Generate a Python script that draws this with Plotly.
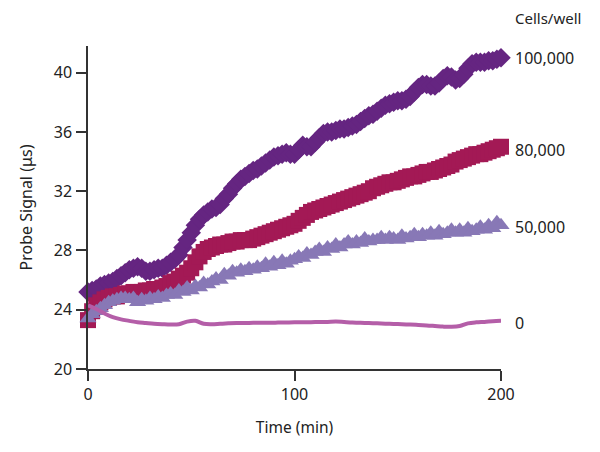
import plotly.graph_objects as go

# time points (min)
time_min = list(range(0, 202, 2))
line_time = list(range(0, 204, 4))

# probe signal (us) per cell density
cells_100k = [25.2, 25.3, 25.4, 25.6, 25.7, 25.8, 25.9, 26.1, 26.3, 26.5,
              26.7, 26.8, 26.9, 26.8, 26.6, 26.6, 26.7, 26.8, 26.8, 27.0,
              27.2, 27.4, 27.7, 28.2, 28.7, 29.2, 29.7, 30.1, 30.4, 30.6,
              30.8, 30.9, 31.1, 31.5, 31.8, 32.2, 32.5, 32.8, 33.0, 33.2,
              33.4, 33.5, 33.7, 33.9, 34.1, 34.3, 34.4, 34.5, 34.6, 34.5,
              34.5, 34.8, 35.1, 35.0, 35.0, 35.3, 35.6, 35.9, 36.0, 36.0,
              36.1, 36.2, 36.2, 36.3, 36.4, 36.5, 36.7, 36.9, 37.1, 37.2,
              37.4, 37.6, 37.8, 37.9, 38.0, 38.1, 38.1, 38.2, 38.4, 38.7,
              39.0, 39.2, 39.2, 39.1, 39.1, 39.3, 39.6, 39.8, 39.7, 39.5,
              39.6, 39.9, 40.3, 40.6, 40.7, 40.7, 40.7, 40.8, 40.8, 40.9,
              41.0]
cells_80k = [23.3, 23.9, 24.3, 24.5, 24.7, 24.8, 24.9, 24.9, 25.0, 25.1,
             25.1, 25.2, 25.2, 25.2, 25.3, 25.3, 25.4, 25.4, 25.5, 25.6,
             25.8, 25.9, 26.1, 26.3, 26.5, 26.8, 27.2, 27.6, 27.9, 28.1,
             28.2, 28.3, 28.4, 28.4, 28.5, 28.6, 28.6, 28.7, 28.7, 28.7,
             28.8, 28.9, 29.0, 29.1, 29.2, 29.3, 29.4, 29.5, 29.6, 29.7,
             29.8, 30.0, 30.2, 30.4, 30.6, 30.7, 30.8, 30.9, 31.0, 31.1,
             31.2, 31.3, 31.4, 31.5, 31.6, 31.7, 31.8, 31.9, 32.0, 32.2,
             32.3, 32.4, 32.5, 32.6, 32.6, 32.7, 32.8, 32.9, 33.0, 33.0,
             33.1, 33.2, 33.3, 33.3, 33.4, 33.5, 33.6, 33.7, 33.8, 34.0,
             34.1, 34.2, 34.3, 34.4, 34.5, 34.5, 34.6, 34.7, 34.8, 34.9,
             35.0]
cells_50k = [23.4, 23.7, 23.9, 24.1, 24.3, 24.5, 24.6, 24.7, 24.8, 24.8,
             24.7, 24.8, 24.5, 24.7, 24.6, 24.8, 24.7, 24.9, 24.8, 25.0,
             25.1, 25.0, 25.3, 25.2, 25.5, 25.3, 25.6, 25.5, 25.8, 25.7,
             25.9, 26.1, 26.0, 26.4, 26.3, 26.6, 26.5, 26.7, 26.6, 26.8,
             26.7, 26.9, 26.8, 27.1, 26.9, 27.2, 27.0, 27.3, 27.1, 27.3,
             27.4, 27.6, 27.5, 27.8, 27.7, 27.9, 28.1, 27.9, 28.2, 28.1,
             28.4, 28.2, 28.4, 28.6, 28.4, 28.6, 28.5, 28.8, 28.6, 28.7,
             28.7, 28.9, 28.7, 28.9, 28.8, 28.7, 29.0, 28.8, 28.9, 29.1,
             28.9, 29.1, 29.0, 29.2, 29.0, 29.3, 29.1, 29.2, 29.4, 29.2,
             29.4, 29.2, 29.5, 29.3, 29.4, 29.6, 29.4, 29.7, 29.5, 29.9,
             29.7]
cells_0 = [24.3, 24.05, 23.75, 23.5, 23.35, 23.25, 23.15, 23.1, 23.05, 23.02,
           23.0, 23.02, 23.2, 23.25, 23.05, 23.02, 23.05, 23.08, 23.1, 23.1,
           23.12, 23.12, 23.12, 23.13, 23.14, 23.15, 23.15, 23.16, 23.17, 23.18,
           23.2, 23.17, 23.14, 23.12, 23.1, 23.08, 23.06, 23.04, 23.02, 23.0,
           22.97, 22.94, 22.9, 22.86, 22.85, 22.9, 23.08, 23.15, 23.18, 23.22, 23.25]

labels = ['100,000', '80,000', '50,000', '0']
label_y = [41.0, 34.8, 29.6, 23.1]

font_name = 'Noto Sans'
text_color = '#222222'

fig = go.Figure()
fig.add_scatter(x=time_min, y=cells_100k, mode='markers', cliponaxis=False,
                marker=dict(symbol='diamond', size=15, color='#652581'))
fig.add_scatter(x=time_min, y=cells_80k, mode='markers', cliponaxis=False,
                marker=dict(symbol='square', size=16, color='#a31955'))
fig.add_scatter(x=time_min, y=cells_50k, mode='markers', cliponaxis=False,
                marker=dict(symbol='triangle-up', size=15, color='#8878b6'))
fig.add_scatter(x=line_time, y=cells_0, mode='lines', line_shape='spline',
                cliponaxis=False, line=dict(color='#b45ea8', width=4))

for lab, yv in zip(labels, label_y):
    fig.add_annotation(x=1, xref='paper', y=yv, yref='y', text=lab,
                       showarrow=False, xanchor='left', xshift=12,
                       font=dict(size=16, color=text_color, family=font_name))
fig.add_annotation(x=1, xref='paper', y=1, yref='paper', text='Cells/well',
                   showarrow=False, xanchor='left', yanchor='middle',
                   xshift=12, yshift=28,
                   font=dict(size=15, color=text_color, family=font_name))

axis_style = dict(showgrid=False, zeroline=False, showline=True,
                  linecolor='#333333', linewidth=1.5, ticks='outside',
                  ticklen=10, tickwidth=1.5, tickcolor='#333333',
                  automargin=False,
                  tickfont=dict(size=16, color=text_color, family=font_name))

fig.update_xaxes(range=[0, 200], tickvals=[0, 100, 200],
                 title=dict(text='Time (min)', standoff=18,
                            font=dict(size=15.5, color=text_color, family=font_name)),
                 **axis_style)
fig.update_yaxes(range=[20, 41.8], tickvals=[20, 24, 28, 32, 36, 40],
                 ticklabelstandoff=1,
                 title=dict(text='Probe Signal (μs)', standoff=17,
                            font=dict(size=16, color=text_color, family=font_name)),
                 **axis_style)

# page body adds an 8 px offset, so the figure is shrunk to fit the window
fig.update_layout(width=592, height=444, showlegend=False,
                  plot_bgcolor='white', paper_bgcolor='white',
                  margin=dict(l=80, r=99, t=38, b=83),
                  font=dict(family=font_name, color=text_color))

fig.write_html('out.html')
